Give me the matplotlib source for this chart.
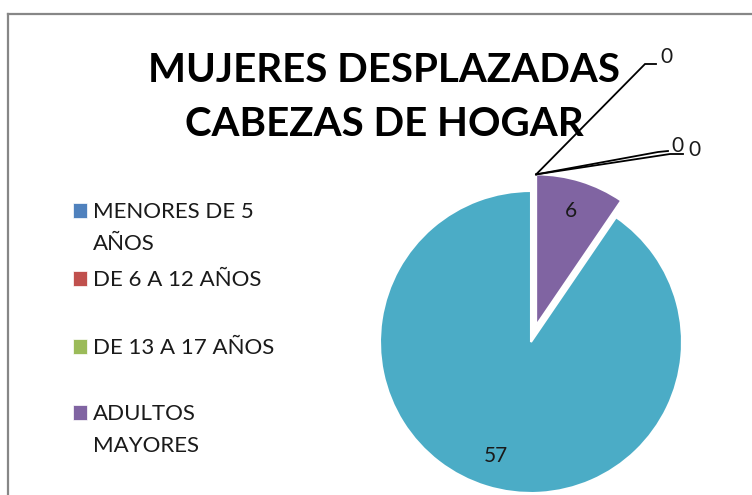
import matplotlib
matplotlib.use("Agg")
import matplotlib.pyplot as plt
from matplotlib.patches import Rectangle
from matplotlib.lines import Line2D
import numpy as np

# ---- data ----
categories = ["MENORES DE 5\nAÑOS", "DE 6 A 12 AÑOS", "DE 13 A 17 AÑOS",
              "ADULTOS\nMAYORES", "ADULTAS"]
values = [0, 0, 0, 6, 57]
colors = ["#4F81BD", "#C0504D", "#9BBB59", "#8064A2", "#4BACC6"]
explode = [0, 0, 0, 0.115, 0]
title_lines = ["MUJERES DESPLAZADAS", "CABEZAS DE HOGAR"]

W, H, DPI = 752, 495, 100
CX, CY, R = 531, 342, 151   # pie centre / radius in pixels

BODY = "Lato"

fig = plt.figure(figsize=(W / DPI, H / DPI), dpi=DPI)
fig.patch.set_facecolor("white")
ax = fig.add_axes([0, 0, 1, 1])


def px(x, y):
    return ((x - CX) / R, (CY - y) / R)


total = sum(values)

wedges, texts = ax.pie(values, colors=colors, explode=explode, startangle=90,
                       counterclock=False, radius=1, center=(0, 0),
                       wedgeprops=dict(edgecolor="white", linewidth=1.5))
ax.set_aspect("auto")
ax.set_xlim((0 - CX) / R, (W - CX) / R)
ax.set_ylim((CY - H) / R, (CY - 0) / R)
ax.axis("off")

# value labels inside non-zero slices
for w, v in zip(wedges, values):
    if v <= 0:
        continue
    mid = np.deg2rad((w.theta1 + w.theta2) / 2)
    cx, cy = w.center
    ax.text(cx + 0.79 * np.cos(mid), cy + 0.79 * np.sin(mid), str(v),
            ha="center", va="center", fontsize=15, family=BODY, color="#1a1a1a")

# zero labels with leader lines from the top of the exploded slice
ex = wedges[3]
anchor = (ex.center[0], ex.center[1] + ex.r)
zero_idx = [i for i, v in enumerate(values) if v == 0]
elbows = [((645, 64), (656, 64), (666, 57)),
          ((658, 152), (668, 151), (677, 146)),
          ((670, 154), (683, 154), (694, 150))]
for i, (e1, e2, t) in zip(zero_idx, elbows):
    p1 = px(*e1)
    p2 = px(*e2)
    ax.plot([anchor[0], p1[0], p2[0]], [anchor[1], p1[1], p2[1]],
            color="black", lw=1.3, solid_joinstyle="miter")
    tx, ty = px(*t)
    ax.text(tx, ty, str(values[i]), ha="center", va="center",
            fontsize=15, family=BODY, color="#1a1a1a")

# title
fig.text(384 / W, 1 - 82 / H, title_lines[0], ha="center", va="baseline",
         fontsize=29, fontweight="bold", family=BODY, color="black")
fig.text(384 / W, 1 - 136 / H, title_lines[1], ha="center", va="baseline",
         fontsize=29, fontweight="bold", family=BODY, color="black")

# legend (first four categories shown, as in the reference)
leg_first_baseline = [218, 286, 354, 420]
line_gap = 32
for lab, col, yb in zip(categories[:4], colors[:4], leg_first_baseline):
    for k, line in enumerate(lab.split("\n")):
        fig.text(93 / W, 1 - (yb + k * line_gap) / H, line, ha="left",
                 va="baseline", fontsize=16, family=BODY, color="#1a1a1a")
    fig.add_artist(Rectangle((73 / W, 1 - yb / H), 14 / W, 15 / H,
                             transform=fig.transFigure, facecolor=col,
                             edgecolor="white", linewidth=0.5))

# chart border (cropped on right/bottom)
fig.add_artist(Line2D([8 / W, 8 / W], [0, 1 - 14 / H], transform=fig.transFigure,
                      color="#878787", lw=1.6))
fig.add_artist(Line2D([8 / W, 1], [1 - 14 / H, 1 - 14 / H], transform=fig.transFigure,
                      color="#878787", lw=1.6))

fig.savefig("out.png", dpi=DPI, facecolor="white")
